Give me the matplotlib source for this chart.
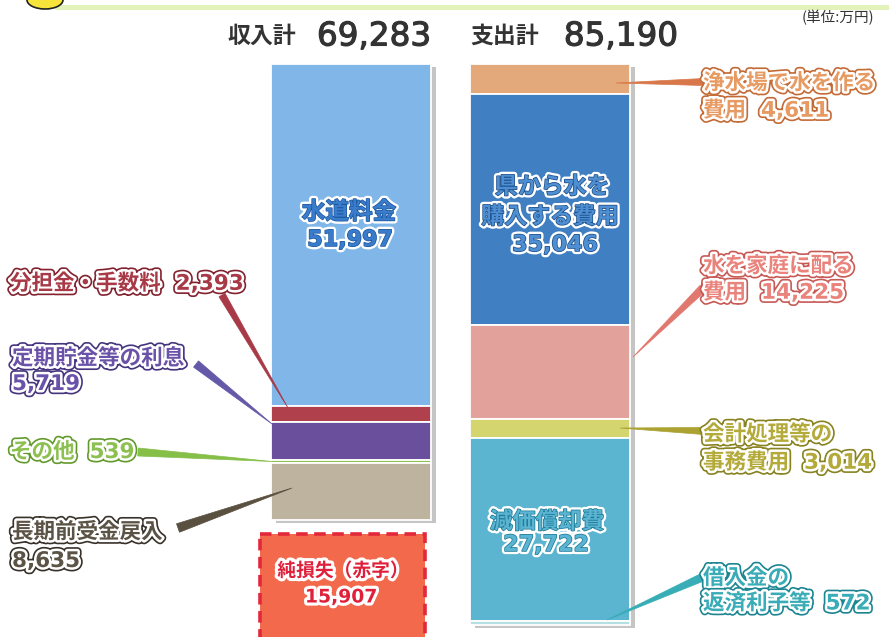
import matplotlib
matplotlib.use('Agg')
import matplotlib.pyplot as plt
import matplotlib.patheffects as pe
from matplotlib.patches import Polygon, Rectangle, Ellipse
import numpy as np

# ---------------- data ----------------
bar_names = ['収入計', '支出計']
income_labels = ['水道料金', '分担金・手数料', '定期貯金等の利息', 'その他', '長期前受金戻入']
income_values = [51997, 2393, 5719, 539, 8635]
expense_labels = ['浄水場で水を作る費用', '県から水を購入する費用', '水を家庭に配る費用',
                  '会計処理等の事務費用', '減価償却費', '借入金の返済利子等']
expense_values = [4611, 35046, 14225, 3014, 27722, 572]
loss_label = '純損失（赤字）'
unit_label = '(単位:万円)'

income_total = sum(income_values)
expense_total = sum(expense_values)
loss_value = expense_total - income_total

income_colors = ['#80b7e8', '#b0404c', '#6a4f9c', '#8dc34e', '#bdb39f']
expense_colors = ['#e3a97a', '#3f7fc2', '#e3a19c', '#d4d56e', '#5bb5d0', '#b4e0e4']

def fmt(v):
    return f'{v:,}'

# ---------------- layout helpers (pixel -> data) ----------------
W, H = 889, 637
X0, SX = 351.0, 199.5          # pixel x of bar 0 centre, pixels per x unit
Y0, SY = 64.0, 456.0 / 69283   # pixel y of value 0, pixels per unit value

def dx(p):
    return (p - X0) / SX

def dy(p):
    return (p - Y0) / SY

FAM = ['DejaVu Sans', 'Noto Sans CJK JP']
CJK = ['Noto Sans CJK JP', 'DejaVu Sans']

fig = plt.figure(figsize=(W / 100, H / 100), dpi=100)
fig.patch.set_facecolor('white')
ax = fig.add_axes([0, 0, 1, 1])
ax.set_xlim(dx(0), dx(W))
ax.set_ylim(dy(H), dy(0))
ax.set_axis_off()

# top decoration
ax.add_patch(Rectangle((dx(55), dy(5)), (W - 55) / SX, 5 / SY, color='#e2f2b8', zorder=1, lw=0))
ax.add_patch(Ellipse((dx(45), dy(0)), 36 / SX, 18 / SY, facecolor='#f7e43a', edgecolor='#222', lw=1.2, zorder=2))

# ---------------- bars ----------------
bw = 160 / SX
x_pos = [0, 1]

# shadows
ax.bar(x_pos[0] + 5 / SX, income_total, bottom=3 / SY, width=bw, color='#8c8c8c', alpha=0.5, zorder=1, lw=0)
ax.bar(x_pos[1] + 5 / SX, expense_total, bottom=3 / SY, width=bw, color='#8c8c8c', alpha=0.5, zorder=1, lw=0)

cum = np.concatenate([[0], np.cumsum(income_values)[:-1]])
ax.bar([x_pos[0]] * len(income_values), income_values, bottom=cum, width=bw,
       color=income_colors, edgecolor='white', linewidth=1.3, zorder=2)
cum_e = np.concatenate([[0], np.cumsum(expense_values)[:-1]])
ax.bar([x_pos[1]] * len(expense_values), expense_values, bottom=cum_e, width=bw,
       color=expense_colors, edgecolor='white', linewidth=1.3, zorder=2)

# net loss box (dashed)
gap = 14 / SY
ax.bar(dx(342.5), loss_value, bottom=income_total + gap, width=165 / SX,
       color='#f26a4b', edgecolor='#e4283c', linewidth=2.6, linestyle=(0, (3.2, 1.8)), zorder=2)

# ---------------- titles ----------------
title_pe = [pe.Stroke(linewidth=0.8, foreground='#333333'), pe.Normal()]
ax.text(dx(262), dy(36), bar_names[0], fontsize=16.5, fontweight='bold', color='#333333',
        ha='center', va='center', family=CJK, zorder=6)
ax.text(dx(374), dy(36), fmt(income_total), fontsize=23.5, color='#333333',
        ha='center', va='center', family=FAM, zorder=6, path_effects=title_pe)
ax.text(dx(505), dy(36), bar_names[1], fontsize=16.5, fontweight='bold', color='#333333',
        ha='center', va='center', family=CJK, zorder=6)
ax.text(dx(621), dy(36), fmt(expense_total), fontsize=23.5, color='#333333',
        ha='center', va='center', family=FAM, zorder=6, path_effects=title_pe)
ax.text(dx(838), dy(18), unit_label, fontsize=10.5, color='#333333',
        ha='center', va='center', family=CJK, zorder=6)

# ---------------- labels ----------------
def out_text(xp, yp, s, fill, outer, size=15.5):
    ax.text(dx(xp), dy(yp), s, fontsize=size, fontweight='bold', color=fill,
            ha='left', va='center', family=FAM, zorder=7,
            path_effects=[pe.Stroke(linewidth=6, foreground=outer),
                          pe.Stroke(linewidth=3.6, foreground='white'), pe.Normal()])

def in_text(xp, yp, s, fill, edge, size=16.5):
    effects = [pe.Stroke(linewidth=4.5, foreground='white')]
    if edge is not None:
        effects.append(pe.Stroke(linewidth=1.1, foreground=edge))
    effects.append(pe.Normal())
    ax.text(dx(xp), dy(yp), s, fontsize=size, fontweight='bold', color=fill,
            ha='center', va='center', family=FAM, zorder=7, path_effects=effects)

def leader(base, tip, hw, color):
    b = np.array(base, float)
    t = np.array(tip, float)
    d = t - b
    n = np.array([-d[1], d[0]]) / np.hypot(*d) * hw
    pts = [b + n, b - n, t]
    pts = [(dx(p[0]), dy(p[1])) for p in pts]
    ax.add_patch(Polygon(pts, closed=True, facecolor=color, edgecolor=color, lw=0.5, zorder=5))

# income side, outside labels
out_text(10, 283, f'{income_labels[1]}  {fmt(income_values[1])}', '#a83a48', '#82222f')
leader((222, 295), (288, 408), 3.5, '#a83a48')

out_text(12, 358, income_labels[2], '#6a52a8', '#45357e')
out_text(12, 384, fmt(income_values[2]), '#6a52a8', '#45357e')
leader((196, 364), (272, 424), 4, '#6458a8')

out_text(10, 452, f'{income_labels[3]}  {fmt(income_values[3])}', '#8cc050', '#629a2c')
leader((138, 452), (272, 461.5), 4, '#86bf48')

out_text(12, 532, income_labels[4], '#5b5345', '#38322a')
out_text(12, 561, fmt(income_values[4]), '#5b5345', '#38322a')
leader((178, 528), (292, 488), 4.5, '#5a5040')

# income inside labels
in_text(349, 212, income_labels[0], '#3a7ccc', '#1e5aa0', 17)
in_text(350, 240, fmt(income_values[0]), '#3a7ccc', '#1e5aa0', 16)

# net loss
in_text(343, 571, loss_label, '#e0203a', None, 13.5)
in_text(341, 597, fmt(loss_value), '#e0203a', None, 13.5)

# expense side, outside labels
out_text(703, 83, '浄水場で水を作る', '#e79a62', '#c46a36')
out_text(703, 110, f'費用  {fmt(expense_values[0])}', '#e79a62', '#c46a36')
leader((703, 82), (616, 83), 3.5, '#d8784a')

out_text(703, 266, '水を家庭に配る', '#ea837c', '#c85a56')
out_text(703, 292, f'費用  {fmt(expense_values[2])}', '#ea837c', '#c85a56')
leader((703, 288), (633, 357), 4, '#e07870')

out_text(703, 434, '会計処理等の', '#b3aa3a', '#888220')
out_text(703, 462, f'事務費用  {fmt(expense_values[3])}', '#b3aa3a', '#888220')
leader((703, 431), (620, 428), 3.5, '#aca232')

out_text(703, 578, '借入金の', '#3aacb8', '#1c8591')
out_text(703, 603, f'返済利子等  {fmt(expense_values[5])}', '#3aacb8', '#1c8591')
leader((703, 577), (607, 620), 4, '#38adb6')

# expense inside labels
in_text(552, 187, '県から水を', '#4d8fd2', '#1d4f8a')
in_text(550, 217, '購入する費用', '#4d8fd2', '#1d4f8a')
in_text(555, 245, fmt(expense_values[1]), '#4d8fd2', '#1d4f8a', 16)
in_text(547, 522, expense_labels[4], '#5ab4d2', '#1f7c98')
in_text(546, 545, fmt(expense_values[4]), '#5ab4d2', '#1f7c98', 16)

fig.savefig('out.png', dpi=100, facecolor='white')
